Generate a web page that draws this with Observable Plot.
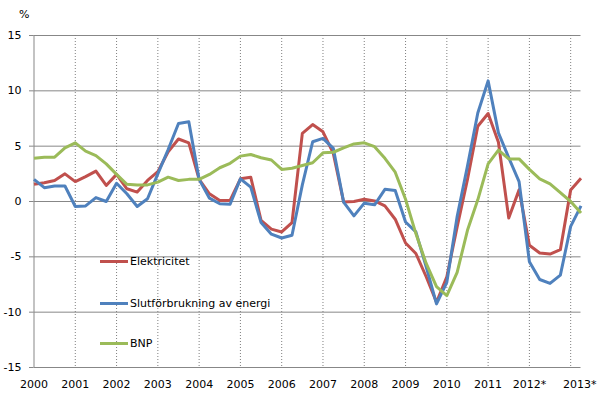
<!DOCTYPE html>
<html><head><meta charset="utf-8">
<script src="https://cdn.jsdelivr.net/npm/d3@7"></script>
<script src="https://cdn.jsdelivr.net/npm/@observablehq/plot@0.6"></script>
<style>
body{margin:0;background:#fff;}
#wrap{position:relative;width:607px;height:418px;font-family:"DejaVu Sans",Verdana,sans-serif;font-size:11px;color:#000;}
#wrap svg{display:block;}
.pct{position:absolute;left:19px;top:8px;}
.leg{position:absolute;left:100px;height:14px;display:flex;align-items:center;white-space:nowrap;}
.sw{width:28px;height:3px;margin-right:2px;}
</style></head><body><div id="wrap"></div>
<script>
const years = ["2000","2001","2002","2003","2004","2005","2006","2007","2008","2009","2010","2011","2012*","2013*"];
const elektricitet = [1.55,1.7,1.9,2.5,1.8,2.25,2.75,1.45,2.45,1.15,0.85,1.9,2.7,4.5,5.65,5.3,2.0,0.7,0.1,0.1,2.05,2.2,-1.7,-2.5,-2.75,-1.9,6.15,6.95,6.3,4.35,-0.05,0.0,0.2,0.05,-0.4,-1.6,-3.75,-4.7,-6.8,-9.1,-6.8,-2.3,2.0,6.8,7.95,5.35,-1.5,1.05,-3.95,-4.65,-4.75,-4.35,1.05,2.1];
const slutforbrukning = [2.0,1.25,1.4,1.4,-0.45,-0.4,0.35,0.0,1.65,0.7,-0.45,0.25,2.5,4.7,7.05,7.2,2.0,0.3,-0.2,-0.25,2.05,1.3,-1.9,-2.95,-3.3,-3.05,1.5,5.4,5.7,4.8,-0.05,-1.3,-0.15,-0.3,1.1,1.0,-1.85,-2.75,-5.9,-9.25,-7.3,-1.35,3.2,8.0,10.9,6.2,3.95,1.8,-5.45,-7.05,-7.4,-6.65,-2.25,-0.4];
const bnp = [3.9,4.0,4.0,4.85,5.3,4.55,4.15,3.4,2.45,1.55,1.5,1.5,1.75,2.2,1.9,2.0,2.0,2.45,3.05,3.45,4.1,4.25,3.95,3.75,2.9,3.0,3.25,3.5,4.4,4.45,4.85,5.2,5.3,4.95,3.9,2.65,0.2,-2.9,-5.6,-7.7,-8.5,-6.4,-2.6,0.15,3.4,4.65,3.85,3.85,2.9,2.05,1.6,0.8,0.0,-1.05];
const seriesNames = ["Elektricitet","Slutförbrukning av energi","BNP"];
const seriesColors = ["#C0504D","#4F81BD","#9BBB59"];
const yTicks = [-15,-10,-5,0,5,10,15];

const seriesData = [elektricitet, slutforbrukning, bnp];
const rows = [];
seriesData.forEach((arr,k)=>arr.forEach((v,i)=>rows.push({q:i, v, s:seriesNames[k]})));
const yearIdx = years.map((_,j)=>j*4);
const grey = "#878787";

const chart = Plot.plot({
  width:607, height:418,
  marginLeft:33.5, marginRight:26.5, marginTop:35, marginBottom:51,
  style:{fontFamily:"DejaVu Sans, Verdana, sans-serif", fontSize:"11px", color:"#000", background:"#fff", overflow:"visible"},
  x:{domain:[0, elektricitet.length-1]},
  y:{domain:[-15,15]},
  color:{domain:seriesNames, range:seriesColors},
  marks:[
    Plot.gridY(yTicks, {stroke:grey, strokeOpacity:1}),
    Plot.ruleX(yearIdx.slice(1), {stroke:"#7f7f7f", strokeDasharray:"1,2", strokeOpacity:1}),
    Plot.ruleX([0], {stroke:grey}),
    Plot.axisY({ticks:yTicks, tickSize:4.5, tickPadding:8, stroke:grey, fill:"#000", label:null, tickFormat:d=>String(d)}),
    Plot.axisX({ticks:yearIdx.slice(0,-1), tickSize:0, tickPadding:13, fill:"#000", label:null, tickFormat:i=>years[i/4]}),
    Plot.axisX({ticks:yearIdx.slice(-1), tickSize:0, tickPadding:13, fill:"#000", label:null, dx:9, tickFormat:i=>years[i/4]}),
    Plot.line(rows, {x:"q", y:"v", z:"s", stroke:"s", strokeWidth:3, strokeLinejoin:"round", strokeLinecap:"butt"})
  ]
});
const wrap = document.getElementById("wrap");
wrap.appendChild(chart);
const pct = document.createElement("div");
pct.className = "pct"; pct.textContent = "%";
wrap.appendChild(pct);
const legTops = [254, 296, 336];
seriesNames.forEach((n,k)=>{
  const d = document.createElement("div");
  d.className = "leg"; d.style.top = legTops[k] + "px";
  const sw = document.createElement("div");
  sw.className = "sw"; sw.style.background = seriesColors[k];
  const t = document.createElement("span"); t.textContent = n;
  d.appendChild(sw); d.appendChild(t);
  wrap.appendChild(d);
});
</script></body></html>
